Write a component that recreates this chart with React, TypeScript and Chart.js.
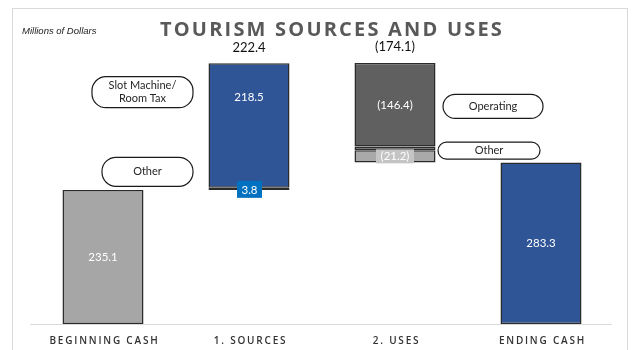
import React, { useEffect, useRef } from "react";
import { Chart, registerables } from "chart.js";
Chart.register(...registerables);

// ---- data ----
const categories = ["BEGINNING CASH", "1. SOURCES", "2. USES", "ENDING CASH"];
const beginningCash = 235.1;
const sourcesOther = 3.8;
const sourcesSlotRoomTax = 218.5;
const sourcesTotal = 222.4;
const usesOperating = 146.4;
const usesOther = 21.2;
const usesTotal = 174.1;
const endingCash = 283.3;
const sourceCalloutLabels = [["Slot Machine/", "Room Tax"], ["Other"]];
const useCalloutLabels = [["Operating"], ["Other"]];
const titleText = "TOURISM SOURCES AND USES";
const unitText = "Millions of Dollars";

// ---- derived waterfall offsets ----
const usesRemainder = +(usesTotal - usesOperating - usesOther).toFixed(1);
const sourcesBase = beginningCash;
const usesBase = +(beginningCash + sourcesTotal - usesTotal).toFixed(1);

const GRAY = "#a6a6a6";
const BLUE = "#2f5597";
const NAVY = "#1f3864";
const DARK = "#606060";
const LIGHT = "#a9a9a9";
const EDGE = "#2b2b2b";

const fmt = (v: number) => v.toFixed(1);
const neg = (v: number) => "(" + v.toFixed(1) + ")";

function roundBox(ctx: CanvasRenderingContext2D, x: number, y: number, w: number, h: number, r: number) {
  ctx.beginPath();
  ctx.moveTo(x + r, y);
  ctx.lineTo(x + w - r, y);
  ctx.arc(x + w - r, y + r, r, -Math.PI / 2, 0);
  ctx.lineTo(x + w, y + h - r);
  ctx.arc(x + w - r, y + h - r, r, 0, Math.PI / 2);
  ctx.lineTo(x + r, y + h);
  ctx.arc(x + r, y + h - r, r, Math.PI / 2, Math.PI);
  ctx.lineTo(x, y + r);
  ctx.arc(x + r, y + r, r, Math.PI, Math.PI * 1.5);
  ctx.closePath();
}

function callout(ctx: CanvasRenderingContext2D, x: number, y: number, w: number, h: number, lines: string[]) {
  roundBox(ctx, x + 0.5, y + 0.5, w, h, Math.min(h / 2, 14));
  ctx.fillStyle = "#ffffff";
  ctx.fill();
  ctx.strokeStyle = "#1a1a1a";
  ctx.lineWidth = 1.2;
  ctx.stroke();
  ctx.fillStyle = "#262626";
  ctx.font = "11px Lato, 'Liberation Sans', sans-serif";
  ctx.textAlign = "center";
  ctx.textBaseline = "middle";
  const lh = 13;
  const cy = y + h / 2 + 0.5;
  lines.forEach((t, i) => {
    ctx.fillText(t, x + w / 2 + 0.5, cy + (i - (lines.length - 1) / 2) * lh);
  });
}

const overlayPlugin = {
  id: "overlay",
  beforeDraw(chart: any) {
    const ctx = chart.ctx as CanvasRenderingContext2D;
    ctx.save();
    ctx.fillStyle = "#ffffff";
    ctx.fillRect(0, 0, chart.width, chart.height);
    ctx.strokeStyle = "#d9d9d9";
    ctx.lineWidth = 1;
    ctx.strokeRect(12.5, 8.5, 615, 360);
    ctx.restore();
  },
  afterDatasetsDraw(chart: any) {
    const ctx = chart.ctx as CanvasRenderingContext2D;
    const area = chart.chartArea;
    const xs = chart.scales.x;
    ctx.save();

    // baseline
    ctx.strokeStyle = "#d9d9d9";
    ctx.lineWidth = 1;
    ctx.beginPath();
    ctx.moveTo(area.left, area.bottom + 0.5);
    ctx.lineTo(area.right - 2, area.bottom + 0.5);
    ctx.stroke();

    const seg1 = chart.getDatasetMeta(1).data;
    const seg2 = chart.getDatasetMeta(2).data;
    const seg3 = chart.getDatasetMeta(3).data;
    const mid = (el: any) => (el.y + el.base) / 2;

    ctx.textAlign = "center";
    ctx.textBaseline = "middle";
    ctx.font = "11.5px Lato, 'Liberation Sans', sans-serif";
    ctx.fillStyle = "#ffffff";
    ctx.fillText(fmt(beginningCash), seg1[0].x, mid(seg1[0]));
    ctx.fillText(fmt(endingCash), seg1[3].x, mid(seg1[3]));
    ctx.fillText(fmt(sourcesSlotRoomTax), seg3[1].x, seg3[1].y + 34);
    ctx.fillText(neg(usesOperating), seg3[2].x, mid(seg3[2]));

    // 3.8 boxed
    {
      const el = seg1[1];
      const cy = mid(el);
      ctx.fillStyle = "#0070c0";
      ctx.fillRect(el.x - 12, cy - 8, 25, 17);
      ctx.fillStyle = "#ffffff";
      ctx.fillText(fmt(sourcesOther), el.x + 0.5, cy + 1);
    }
    // (21.2) boxed
    {
      const el = seg1[2];
      const cy = mid(el);
      ctx.fillStyle = "#c4c4c4";
      ctx.fillRect(el.x - 19, cy - 7, 38, 14);
      ctx.fillStyle = "#ffffff";
      ctx.fillText(neg(usesOther), el.x, cy);
    }

    // totals above
    ctx.fillStyle = "#111111";
    ctx.font = "13px Lato, 'Liberation Sans', sans-serif";
    ctx.fillText(fmt(sourcesTotal), seg3[1].x, seg3[1].y - 15);
    ctx.fillText(neg(usesTotal), seg3[2].x, seg3[2].y - 16);

    // callouts sources
    {
      const el = seg3[1];
      const left = el.x - el.width / 2;
      callout(ctx, left - 16 - 101, el.y + 13, 101, 31, sourceCalloutLabels[0]);
      const o = seg1[1];
      callout(ctx, left - 16 - 91, mid(o) - 32, 91, 29, sourceCalloutLabels[1]);
    }
    // callouts uses
    {
      const el = seg3[2];
      const right = el.x + el.width / 2;
      callout(ctx, right + 7, mid(el) - 11, 100, 24, useCalloutLabels[0]);
      const o = seg2[2];
      callout(ctx, right + 2, o.y - 5, 102, 17, useCalloutLabels[1]);
    }

    // category labels
    ctx.fillStyle = "#333333";
    ctx.font = "600 10px 'Open Sans', sans-serif";
    (ctx as any).letterSpacing = "1.8px";
    categories.forEach((c, i) => {
      ctx.fillText(c, xs.getPixelForValue(i) + 1.5, 341);
    });

    // title
    ctx.fillStyle = "#595959";
    ctx.font = "bold 20px 'Open Sans', sans-serif";
    (ctx as any).letterSpacing = "2.2px";
    ctx.fillText(titleText, 332, 30);
    (ctx as any).letterSpacing = "0px";
    ctx.textAlign = "left";
    ctx.fillStyle = "#222222";
    ctx.font = "italic 9.5px 'Liberation Sans', sans-serif";
    ctx.fillText(unitText, 22, 31);

    ctx.restore();
  },
};

export default function App() {
  const ref = useRef<HTMLCanvasElement | null>(null);
  useEffect(() => {
    if (!ref.current) return;
    const chart = new Chart(ref.current, {
      type: "bar",
      data: {
        labels: categories,
        datasets: [
          {
            label: "offset",
            data: [0, sourcesBase, usesBase, 0],
            backgroundColor: "rgba(0,0,0,0)",
            borderWidth: 0,
          },
          {
            label: "first",
            data: [beginningCash, sourcesOther, usesOther, endingCash],
            backgroundColor: [GRAY, NAVY, LIGHT, BLUE],
            borderColor: EDGE,
            borderWidth: 1.5,
            borderSkipped: false,
          },
          {
            label: "remainder",
            data: [null, null, usesRemainder, null],
            backgroundColor: DARK,
            borderColor: EDGE,
            borderWidth: 1.5,
            borderSkipped: false,
          },
          {
            label: "main",
            data: [null, sourcesSlotRoomTax, usesOperating, null],
            backgroundColor: [BLUE, BLUE, DARK, BLUE],
            borderColor: EDGE,
            borderWidth: 1.5,
            borderSkipped: false,
          },
        ],
      },
      options: {
        responsive: false,
        animation: false,
        layout: { padding: { left: 30, right: 24, top: 40, bottom: 26 } },
        datasets: { bar: { categoryPercentage: 1, barPercentage: 0.555 } },
        plugins: { legend: { display: false }, tooltip: { enabled: false } },
        scales: {
          x: { stacked: true, display: false },
          y: { stacked: true, display: false, min: 0, max: 498 },
        },
      },
      plugins: [overlayPlugin],
    });
    return () => chart.destroy();
  }, []);
  return (
    <div style={{ position: "fixed", left: 0, top: 0, width: 638, height: 350, background: "#fff" }}>
      <canvas ref={ref} width={638} height={350} style={{ display: "block", width: 638, height: 350 }} />
    </div>
  );
}
